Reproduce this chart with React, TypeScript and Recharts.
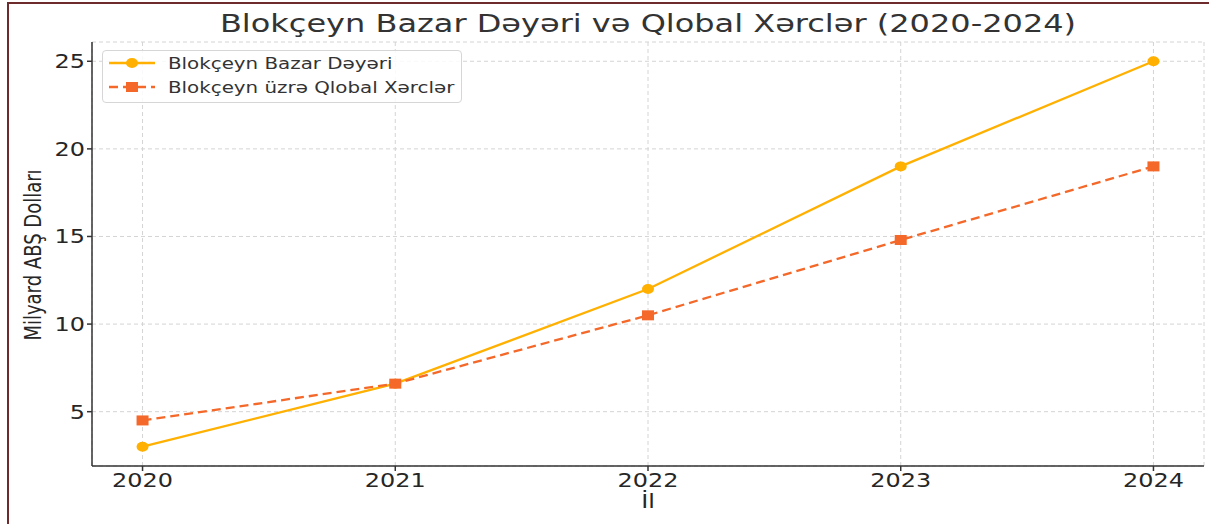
import React from "react";
import { CartesianGrid, Line, LineChart, XAxis, YAxis } from "recharts";

const years = [2020, 2021, 2022, 2023, 2024];
const marketValue = [3, 6.6, 12, 19, 25];
const globalSpending = [4.5, 6.6, 10.5, 14.8, 19];
const yTicks = [5, 10, 15, 20, 25];

const SX = 1.26;
const FONT = "'DejaVu Sans', sans-serif";
const GOLD = "#FFB000";
const ORANGE = "#F4692A";

const data = years.map((year, i) => ({
  year,
  market: marketValue[i],
  spending: globalSpending[i],
}));

function XTick(props: any) {
  const { x, y, payload } = props;
  return (
    <text
      transform={`translate(${x},${y + 14}) scale(${SX},1)`}
      textAnchor="middle"
      fontSize={19}
      fill="#262626"
      fontFamily={FONT}
    >
      {payload.value}
    </text>
  );
}

function YTick(props: any) {
  const { x, y, payload } = props;
  return (
    <text
      transform={`translate(${x},${y + 7}) scale(${SX},1)`}
      textAnchor="end"
      fontSize={19}
      fill="#262626"
      fontFamily={FONT}
    >
      {payload.value}
    </text>
  );
}

function RoundDot(props: any) {
  const { cx, cy, index } = props;
  return <ellipse key={`c${index}`} cx={cx} cy={cy} rx={6} ry={5} fill={GOLD} />;
}

function SquareDot(props: any) {
  const { cx, cy, index } = props;
  return (
    <rect key={`s${index}`} x={cx - 6} y={cy - 5} width={12} height={10} fill={ORANGE} />
  );
}

function LegendBox() {
  const rows = [
    { label: "Blokçeyn Bazar Dəyəri", color: GOLD, dashed: false },
    { label: "Blokçeyn üzrə Qlobal Xərclər", color: ORANGE, dashed: true },
  ];
  return (
    <div
      style={{
        position: "absolute",
        left: 102,
        top: 50,
        boxSizing: "border-box",
        width: 360,
        height: 53,
        border: "1px solid #d6d6d6",
        borderRadius: 4,
        background: "rgba(255,255,255,0.85)",
        padding: "0px 6px",
        fontFamily: FONT,
      }}
    >
      {rows.map((r) => (
        <div key={r.label} style={{ display: "flex", alignItems: "center", height: 24 }}>
          <svg width={46} height={14}>
            <line
              x1={0}
              x2={46}
              y1={7}
              y2={7}
              stroke={r.color}
              strokeWidth={2.3}
              strokeDasharray={r.dashed ? "9 5" : undefined}
            />
            {r.dashed ? (
              <rect x={17} y={2} width={12} height={10} fill={r.color} />
            ) : (
              <ellipse cx={23} cy={7} rx={6} ry={5} fill={r.color} />
            )}
          </svg>
          <span
            style={{
              marginLeft: 13,
              fontSize: 16,
              color: "#333",
              display: "inline-block",
              transform: `scaleX(1.24)`,
              transformOrigin: "left center",
              whiteSpace: "nowrap",
            }}
          >
            {r.label}
          </span>
        </div>
      ))}
    </div>
  );
}

export default function App() {
  return (
    <div
      style={{
        position: "absolute",
        left: 0,
        top: 0,
        width: 1215,
        height: 524,
        background: "#fff",
        overflow: "hidden",
      }}
    >
      <div
        style={{
          position: "absolute",
          left: 7,
          top: 2,
          width: 1200,
          height: 540,
          borderTop: "2px solid #6e2b2b",
          borderLeft: "2px solid #6e2b2b",
        }}
      />
      <svg width={1215} height={50} style={{ position: "absolute", left: 0, top: 0 }}>
        <text
          transform={`translate(648,32) scale(1.28,1)`}
          textAnchor="middle"
          fontSize={25}
          fill="#333"
          fontFamily={FONT}
        >
          Blokçeyn Bazar Dəyəri və Qlobal Xərclər (2020-2024)
        </text>
      </svg>
      <div style={{ position: "absolute", left: 0, top: 0 }}>
        <LineChart
          width={1215}
          height={524}
          data={data}
          margin={{ top: 42, right: 11, bottom: 28, left: 32 }}
        >
          <CartesianGrid stroke="#d4d4d4" strokeDasharray="4 3" />
          <XAxis
            dataKey="year"
            type="number"
            domain={[2019.8, 2024.2]}
            ticks={years}
            allowDataOverflow
            height={30}
            stroke="#333"
            strokeWidth={1.5}
            tickSize={5}
            tickLine={{ stroke: "#333" }}
            tick={<XTick />}
            label={{
              content: () => (
                <text
                  transform={`translate(648,508) scale(${SX},1)`}
                  textAnchor="middle"
                  fontSize={19}
                  fill="#262626"
                  fontFamily={FONT}
                >
                  İl
                </text>
              ),
            }}
          />
          <YAxis
            type="number"
            domain={[1.9, 26.1]}
            ticks={yTicks}
            allowDataOverflow
            width={60}
            stroke="#333"
            strokeWidth={1.5}
            tickSize={5}
            tickLine={{ stroke: "#333" }}
            tick={<YTick />}
            label={{
              content: () => (
                <text
                  transform={`translate(41,255) scale(${SX},1) rotate(-90)`}
                  textAnchor="middle"
                  fontSize={18}
                  fill="#262626"
                  fontFamily={FONT}
                >
                  Milyard ABŞ Dolları
                </text>
              ),
            }}
          />
          <Line
            dataKey="market"
            name="Blokçeyn Bazar Dəyəri"
            stroke={GOLD}
            strokeWidth={2.3}
            dot={<RoundDot />}
            activeDot={false}
            isAnimationActive={false}
          />
          <Line
            dataKey="spending"
            name="Blokçeyn üzrə Qlobal Xərclər"
            stroke={ORANGE}
            strokeWidth={2.3}
            strokeDasharray="9 5"
            dot={<SquareDot />}
            activeDot={false}
            isAnimationActive={false}
          />
        </LineChart>
      </div>
      <LegendBox />
    </div>
  );
}
